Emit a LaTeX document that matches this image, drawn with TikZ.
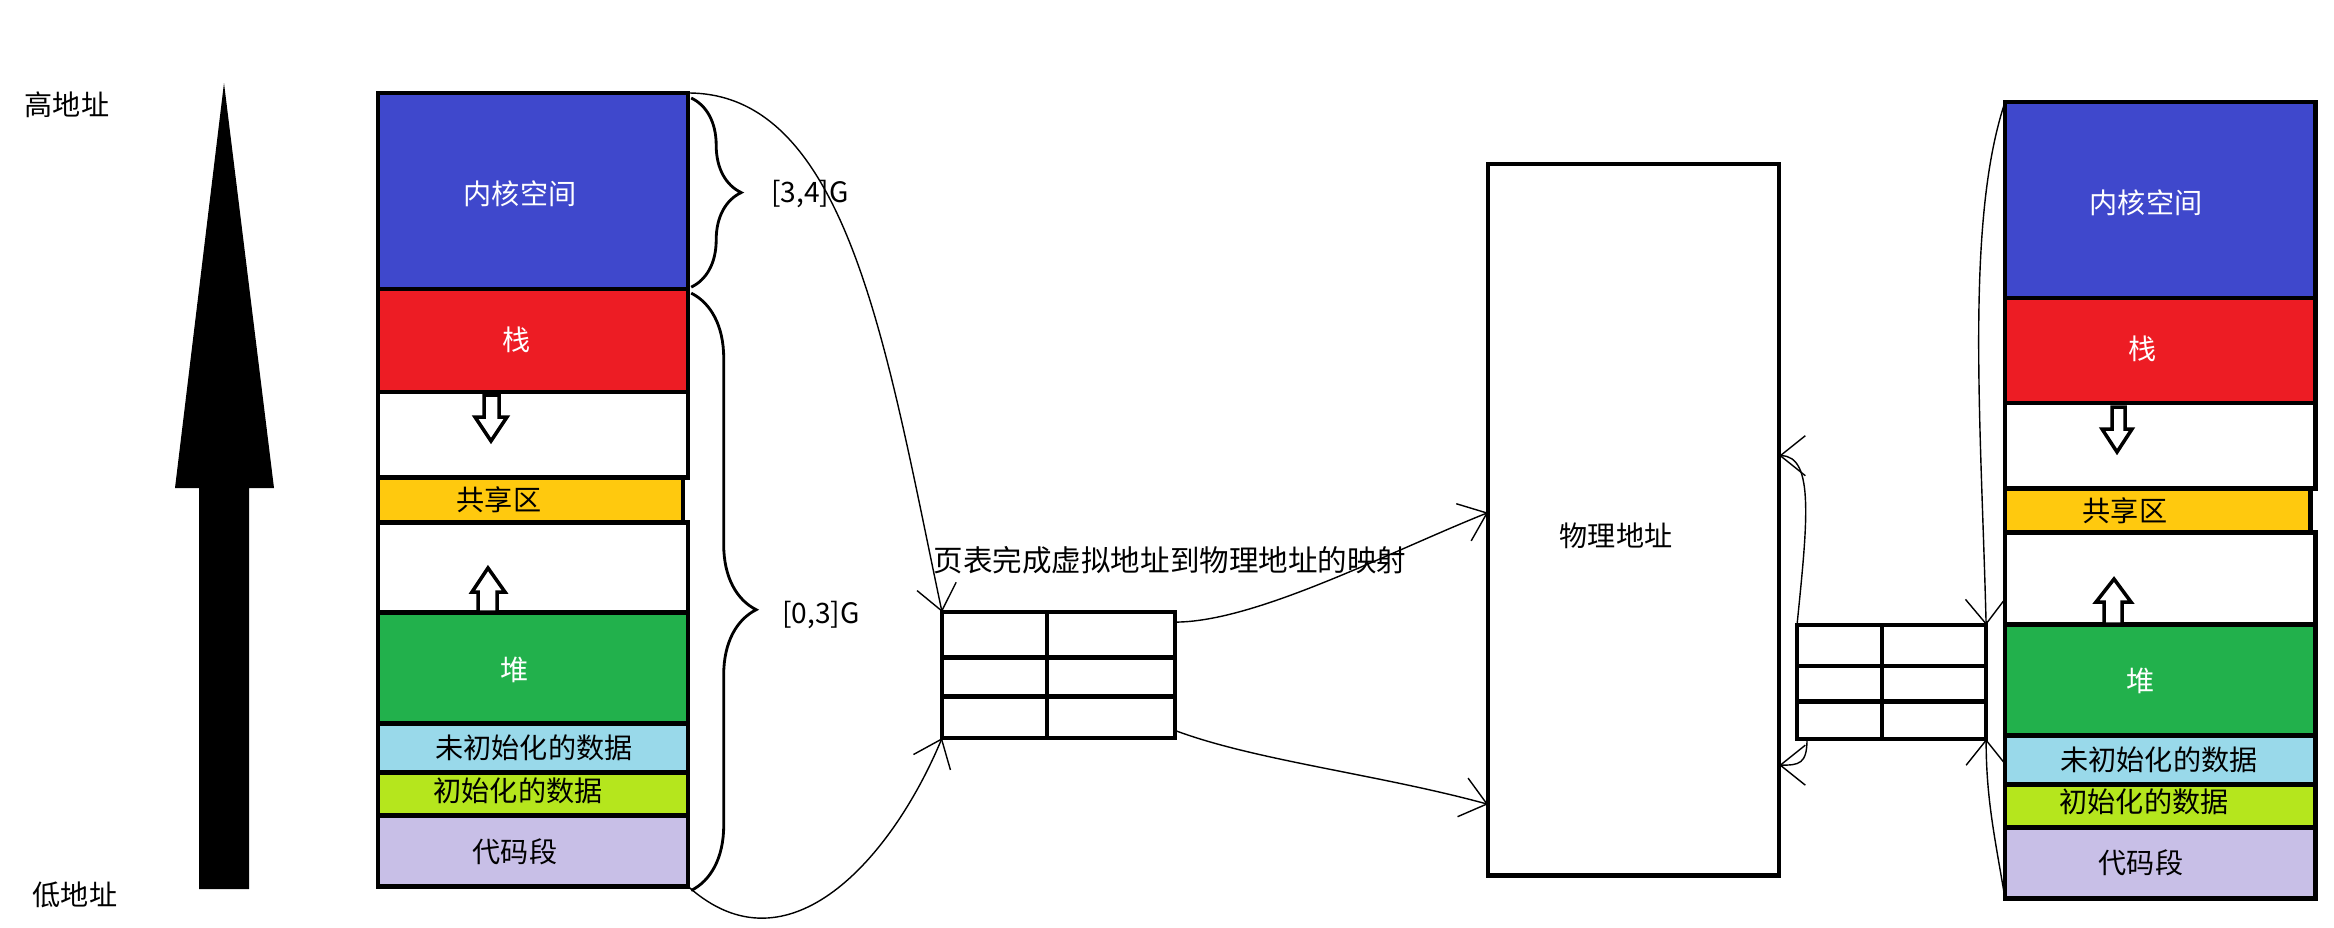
\documentclass[tikz,border=0pt]{standalone}
\usepackage{fontspec}
\setmainfont{Noto Sans CJK SC}
\usetikzlibrary{positioning, calc, arrows.meta, decorations.pathreplacing}
\definecolor{kernblue}{HTML}{3F48CC}
\definecolor{stackred}{HTML}{ED1C24}
\definecolor{shareyellow}{HTML}{FFC90E}
\definecolor{heapgreen}{HTML}{22B14C}
\definecolor{bssblue}{HTML}{99D9EA}
\definecolor{datalime}{HTML}{B5E61D}
\definecolor{codelilac}{HTML}{C8BFE7}
\tikzset{
	>={Straight Barb[length=2.5mm,width=4mm]}, % punta abierta, como a mano
	seg/.style={draw, line width=1.3pt, minimum width=3.1cm, inner sep=0pt, outer sep=0pt}, % tramos de la memoria
	under/.style={below=0pt of #1.south west, anchor=north west}, % apila un tramo bajo otro
	box/.style={draw, line width=1.2pt, inner sep=0pt, outer sep=0pt}, % tablas y memoria fisica
	lbl/.style={font=\fontsize{8}{10}\selectfont, inner sep=0pt}, % textos
	wire/.style={->, line width=0.4pt}, % flechas finas
	brc/.style={decorate, line width=0.8pt}, % llaves
	hollow/.style={draw, fill=white, line width=1pt} % flechas huecas
}

\begin{document}
\begin{tikzpicture}[x=0.01cm, y=-0.01cm]
	\useasboundingbox (0,0) rectangle (2334,927);
	% flecha de direcciones
	\fill (224,83) -- (274,488) -- (249,488) -- (249,889) -- (199,889) -- (199,488) -- (175,488) -- cycle;
	\node[lbl] (high) at (67,105) {高地址};
	\node[lbl] (low) at (75,895) {低地址};
	% espacio virtual
	\node[seg, fill=kernblue, minimum height=1.96cm, anchor=north west] (kernL) at (378,93) {};
	\node[seg, fill=stackred, minimum height=1.03cm, under=kernL] (stackL) {};
	\node[seg, minimum height=0.85cm, under=stackL] (gapaL) {};
	\node[seg, fill=shareyellow, minimum height=0.45cm, minimum width=3.05cm, under=gapaL] (shareL) {};
	\node[seg, minimum height=0.90cm, under=shareL] (gapbL) {};
	\node[seg, fill=heapgreen, minimum height=1.11cm, under=gapbL] (heapL) {};
	\node[seg, fill=bssblue, minimum height=0.49cm, under=heapL] (bssL) {};
	\node[seg, fill=datalime, minimum height=0.43cm, under=bssL] (dataL) {};
	\node[seg, fill=codelilac, minimum height=0.71cm, under=dataL] (textL) {};
	\node[lbl, white] (kernLt) at (520,194) {内核空间};
	\node[lbl, white] (stackLt) at (517,340) {栈};
	\node[lbl] (shareLt) at (499,500) {共享区};
	\node[lbl, white] (heapLt) at (515,670) {堆};
	\node[lbl] (bssLt) at (534,748) {未初始化的数据};
	\node[lbl] (dataLt) at (518,791) {初始化的数据};
	\node[lbl] (textLt) at (515,852) {代码段};
	\draw[hollow] (484,395) -- (499,395) -- (499,417) -- (507,417) -- (491,441) -- (475,417) -- (484,417) -- cycle;
	\draw[hollow] (488,568) -- (505,592) -- (497,592) -- (497,612) -- (478,612) -- (478,592) -- (472,592) -- cycle;
	% llaves
	\draw[brc, decoration={brace, amplitude=0.5cm}] ([xshift=0.03cm, yshift=-0.05cm]kernL.north east) -- ([xshift=0.03cm, yshift=0.02cm]kernL.south east);
	\draw[brc, decoration={brace, amplitude=0.65cm, aspect=0.53}] ([xshift=0.03cm, yshift=-0.04cm]stackL.north east) -- ([xshift=0.03cm, yshift=-0.04cm]textL.south east);
	\node[lbl] (upper) at (810,194) {[3,4]G};
	\node[lbl] (lower) at (821,615) {[0,3]G};
	% tablas de paginas
	\node[box, minimum width=2.33cm, minimum height=1.26cm, anchor=north west] (pt1) at (942,612) {};
	\node[box, minimum width=1.89cm, minimum height=1.14cm, anchor=north west] (pt2) at (1797,625) {};
	\foreach \t in {pt1, pt2} {
		\draw[box] ($(\t.north west)!0.36!(\t.south west)$) -- ($(\t.north east)!0.36!(\t.south east)$);
		\draw[box] ($(\t.north west)!0.67!(\t.south west)$) -- ($(\t.north east)!0.67!(\t.south east)$);
		\draw[box] ($(\t.north west)!0.45!(\t.north east)$) -- ($(\t.south west)!0.45!(\t.south east)$);
	}
	\node[lbl, font=\fontsize{8.4}{10}\selectfont] (map) at (1170,560) {页表完成虚拟地址到物理地址的映射};
	% memoria fisica
	\node[box, minimum width=2.91cm, minimum height=7.11cm, anchor=north west] (phys) at (1488,164) {};
	\node[lbl] (physt) at (1616,536) {物理地址};
	% espacio virtual, otro proceso
	\node[seg, fill=kernblue, minimum height=1.96cm, anchor=north west] (kernR) at (2005,102) {};
	\node[seg, fill=stackred, minimum height=1.05cm, under=kernR] (stackR) {};
	\node[seg, minimum height=0.85cm, under=stackR] (gapaR) {};
	\node[seg, fill=shareyellow, minimum height=0.44cm, minimum width=3.05cm, under=gapaR] (shareR) {};
	\node[seg, minimum height=0.92cm, under=shareR] (gapbR) {};
	\node[seg, fill=heapgreen, minimum height=1.11cm, under=gapbR] (heapR) {};
	\node[seg, fill=bssblue, minimum height=0.49cm, under=heapR] (bssR) {};
	\node[seg, fill=datalime, minimum height=0.43cm, under=bssR] (dataR) {};
	\node[seg, fill=codelilac, minimum height=0.71cm, under=dataR] (textR) {};
	\node[lbl, white] (kernRt) at (2146,203) {内核空间};
	\node[lbl, white] (stackRt) at (2143,349) {栈};
	\node[lbl] (shareRt) at (2125,511) {共享区};
	\node[lbl, white] (heapRt) at (2141,681) {堆};
	\node[lbl] (bssRt) at (2159,760) {未初始化的数据};
	\node[lbl] (dataRt) at (2144,802) {初始化的数据};
	\node[lbl] (textRt) at (2141,863) {代码段};
	\draw[hollow] (2112,407) -- (2125,407) -- (2125,429) -- (2132,429) -- (2117,452) -- (2102,429) -- (2112,429) -- cycle;
	\draw[hollow] (2114,579) -- (2131,602) -- (2122,602) -- (2122,624) -- (2104,624) -- (2104,602) -- (2096,602) -- cycle;
	% flechas
	\draw[wire] (kernL.north east) .. controls +(160,0) and +(-55,-260) .. (pt1.north west);
	\draw[wire] (textL.south east) .. controls +(100,90) and +(-50,120) .. (pt1.south west);
	\draw[wire] ($(pt1.north east)!0.08!(pt1.south east)$) .. controls +(80,0) and +(-100,40) .. ($(phys.north west)!0.49!(phys.south west)$);
	\draw[wire] ($(pt1.north east)!0.94!(pt1.south east)$) .. controls +(80,30) and +(-110,-30) .. ($(phys.north west)!0.9!(phys.south west)$);
	\draw[wire] (pt2.north west) .. controls +(10,-100) and +(36,0) .. ($(phys.north east)!0.41!(phys.south east)$);
	\draw[wire] ([xshift=0.1cm]pt2.south west) .. controls +(0,25) and +(20,0) .. ($(phys.north east)!0.845!(phys.south east)$);
	\draw[wire] (kernR.north west) .. controls +(-40,120) and +(-5,-200) .. (pt2.north east);
	\draw[wire] (textR.south west) .. controls +(-10,-60) and +(0,60) .. (pt2.south east);
\end{tikzpicture}
\end{document}
